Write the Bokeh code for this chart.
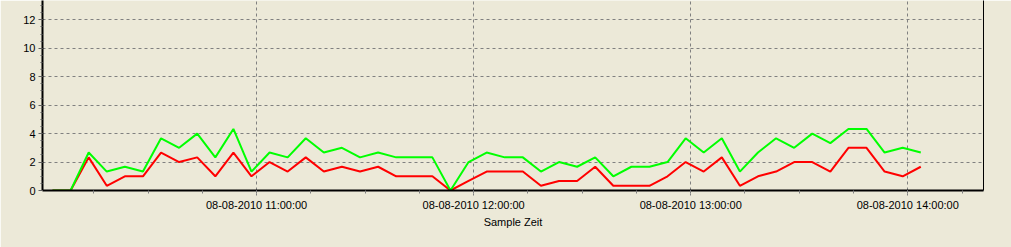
from datetime import datetime
from bokeh.plotting import figure
from bokeh.models import Range1d, FixedTicker, DatetimeTickFormatter, LinearAxis
from bokeh.embed import file_html
from bokeh.resources import INLINE

# Sample times (08-08-2010)
times = ["10:03:36", "10:08:36", "10:13:36", "10:18:36", "10:23:36", "10:28:36", "10:33:36",
         "10:38:36", "10:43:36", "10:48:36", "10:53:36", "10:58:36", "11:03:36", "11:08:36",
         "11:13:36", "11:18:36", "11:23:36", "11:28:36", "11:33:36", "11:38:36", "11:43:36",
         "11:48:36", "11:53:36", "11:58:36", "12:03:36", "12:08:36", "12:13:36", "12:18:36",
         "12:23:36", "12:28:36", "12:33:36", "12:38:36", "12:43:36", "12:48:36", "12:53:36",
         "12:58:36", "13:03:36", "13:08:36", "13:13:36", "13:18:36", "13:23:36", "13:28:36",
         "13:33:36", "13:38:36", "13:43:36", "13:48:36", "13:53:36", "13:58:36", "14:03:36"]

green_values = [0, 0, 2.67, 1.33, 1.67, 1.33, 3.67, 3.0, 4.0, 2.33, 4.33, 1.33, 2.67, 2.33,
                3.67, 2.67, 3.0, 2.33, 2.67, 2.33, 2.33, 2.33, 0, 2.0, 2.67, 2.33, 2.33, 1.33,
                2.0, 1.67, 2.33, 1.0, 1.67, 1.67, 2.0, 3.67, 2.67, 3.67, 1.33, 2.67, 3.67, 3.0,
                4.0, 3.33, 4.33, 4.33, 2.67, 3.0, 2.67]

red_values = [0, 0, 2.33, 0.33, 1.0, 1.0, 2.67, 2.0, 2.33, 1.0, 2.67, 1.0, 2.0, 1.33,
              2.33, 1.33, 1.67, 1.33, 1.67, 1.0, 1.0, 1.0, 0, 0.67, 1.33, 1.33, 1.33, 0.33,
              0.67, 0.67, 1.67, 0.33, 0.33, 0.33, 1.0, 2.0, 1.33, 2.33, 0.33, 1.0, 1.33, 2.0,
              2.0, 1.33, 3.0, 3.0, 1.33, 1.0, 1.67]

x_major_ticks = ["11:00:00", "12:00:00", "13:00:00", "14:00:00"]
x_minor_ticks = ["10:15:00", "10:30:00", "10:45:00", "11:00:00", "11:15:00", "11:30:00",
                 "11:45:00", "12:00:00", "12:15:00", "12:30:00", "12:45:00", "13:00:00",
                 "13:15:00", "13:30:00", "13:45:00", "14:00:00", "14:15:00"]
y_ticks = [0, 2, 4, 6, 8, 10, 12]
x_title = "Sample Zeit"
date = "2010-08-08"


def to_dt(t):
    return datetime.strptime(date + " " + t, "%Y-%m-%d %H:%M:%S")


def to_ms(t):
    return (to_dt(t) - datetime(1970, 1, 1)).total_seconds() * 1000.0


xs = [to_dt(t) for t in times]

BG = "#ECE9D8"
FONT = "Liberation Sans"

p = figure(width=1011, height=247, output_backend="svg", toolbar_location=None,
           x_axis_type="datetime",
           x_range=Range1d(to_ms("10:00:50"), to_ms("14:20:56")),
           y_range=Range1d(0, 13.36),
           min_border_left=42, min_border_right=28, min_border_top=0, min_border_bottom=57)
p.background_fill_color = BG
p.border_fill_color = BG
p.outline_line_color = None

p.line(xs, red_values, line_color="#FF0000", line_width=2)
p.line(xs, green_values, line_color="#00FF00", line_width=2)

# x axis
xa = p.xaxis[0]
xa.ticker = FixedTicker(ticks=[to_ms(t) for t in x_major_ticks],
                        minor_ticks=[to_ms(t) for t in x_minor_ticks])
fmt = "%d-%m-%Y %H:%M:%S"
xa.formatter = DatetimeTickFormatter(microseconds=fmt, milliseconds=fmt, seconds=fmt,
                                     minsec=fmt, minutes=fmt, hourmin=fmt, hours=fmt,
                                     days=fmt, months=fmt, years=fmt)
xa.axis_line_width = 2
xa.axis_line_color = "black"
xa.major_tick_in = 0
xa.major_tick_out = 5
xa.major_tick_line_color = "#808080"
xa.major_tick_line_dash = "2 2"
xa.minor_tick_in = 0
xa.minor_tick_out = 3
xa.minor_tick_line_color = "#808080"
xa.major_label_text_font = FONT
xa.major_label_text_font_size = "11px"
xa.major_label_text_color = "black"
xa.major_label_standoff = 3
xa.axis_label = x_title
xa.axis_label_text_font = FONT
xa.axis_label_text_font_size = "11px"
xa.axis_label_text_font_style = "normal"
xa.axis_label_text_color = "black"
xa.axis_label_standoff = 2

# y axis
ya = p.yaxis[0]
ya.ticker = FixedTicker(ticks=y_ticks, minor_ticks=[v * 0.5 for v in range(0, 27)])
ya.axis_line_width = 2
ya.axis_line_color = "black"
ya.major_tick_in = 0
ya.major_tick_out = 4
ya.major_tick_line_color = "#606060"
ya.minor_tick_in = 0
ya.minor_tick_out = 2
ya.minor_tick_line_color = "#606060"
ya.major_label_text_font = FONT
ya.major_label_text_font_size = "11px"
ya.major_label_text_color = "black"
ya.major_label_standoff = 3

# right border line
ra = LinearAxis(major_tick_line_color=None, minor_tick_line_color=None,
                major_label_text_font_size="0px", axis_line_color="black", axis_line_width=1)
ra.ticker = FixedTicker(ticks=[])
p.add_layout(ra, "right")

# grids
p.xgrid.ticker = FixedTicker(ticks=[to_ms(t) for t in x_major_ticks])
p.xgrid.grid_line_color = "#808080"
p.xgrid.grid_line_dash = "3 3"
p.ygrid.ticker = FixedTicker(ticks=y_ticks[1:])
p.ygrid.grid_line_color = "#808080"
p.ygrid.grid_line_dash = "3 3"

open("out.html", "w").write(file_html(p, INLINE))
